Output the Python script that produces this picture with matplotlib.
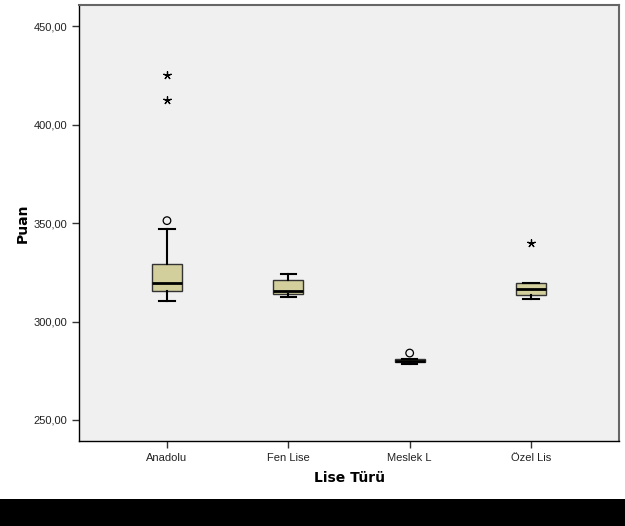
import matplotlib
matplotlib.use("Agg")
import matplotlib.pyplot as plt
from matplotlib.patches import Rectangle

plt.rcParams['font.family'] = ['Liberation Sans', 'DejaVu Sans']

categories = ["Anadolu", "Fen Lise", "Meslek L", "Özel Lis"]
whislo = [310.3, 312.3, 278.6, 311.5]
q1 = [315.4, 314.1, 279.6, 313.5]
med = [319.4, 315.4, 280.0, 316.6]
q3 = [329.3, 321.3, 280.8, 319.6]
whishi = [347.2, 324.4, 280.8, 319.6]
circle_cat = [1, 3]
circle_val = [351.3, 284.0]
star_cat = [1, 1, 4]
star_val = [412.4, 425.2, 340.0]
yticks = [250, 300, 350, 400, 450]

fig = plt.figure(figsize=(6.25, 5.26), dpi=100)
fig.patch.set_facecolor("white")
ax = fig.add_axes([79/625, 1-441/526, 540/625, 436/526])
ax.set_facecolor("#f0f0f0")

stats = []
for i in range(len(categories)):
    stats.append(dict(whislo=whislo[i], q1=q1[i], med=med[i], q3=q3[i],
                      whishi=whishi[i], fliers=[], label=categories[i]))

ax.bxp(stats, positions=range(1, 5), widths=0.25, showfliers=False,
       patch_artist=True,
       boxprops=dict(facecolor="#d3cf9c", edgecolor="#333333", linewidth=1.0),
       medianprops=dict(color="black", linewidth=2.0),
       whiskerprops=dict(color="black", linewidth=1.5),
       capprops=dict(color="black", linewidth=1.5),
       capwidths=0.125)

ax.scatter(circle_cat, circle_val, s=30, facecolors="none", edgecolors="black",
           linewidths=0.9, zorder=5)
ax.scatter(star_cat, star_val, s=30, marker=(5, 2, 0), color="black",
           linewidths=0.9, zorder=5)

ax.set_xlim(0.275, 4.725)
ax.set_ylim(239.3, 460.9)
ax.set_yticks(yticks)
ax.set_yticklabels([f"{v},00" for v in yticks], fontsize=8, color="#222222")
ax.set_xticks(range(1, 5))
ax.set_xticklabels(categories, fontsize=8, color="#222222")
ax.tick_params(direction="out", length=5, width=1, colors="#333333")
ax.tick_params(axis="both", labelcolor="#222222")

for s in ["left", "bottom"]:
    ax.spines[s].set_color("black")
    ax.spines[s].set_linewidth(1.0)
for s in ["top", "right"]:
    ax.spines[s].set_color("#666666")
    ax.spines[s].set_linewidth(1.5)

ax.set_xlabel("Lise Türü", fontsize=10, fontweight="bold", labelpad=6,
              family=["DejaVu Sans"])
ax.set_ylabel("Puan", fontsize=10, fontweight="bold", labelpad=3,
              family=["DejaVu Sans"])

fig.patches.append(Rectangle((0, 0), 1, 27/526, transform=fig.transFigure,
                             facecolor="black", edgecolor="none", zorder=10))

fig.savefig("out.png", dpi=100)
